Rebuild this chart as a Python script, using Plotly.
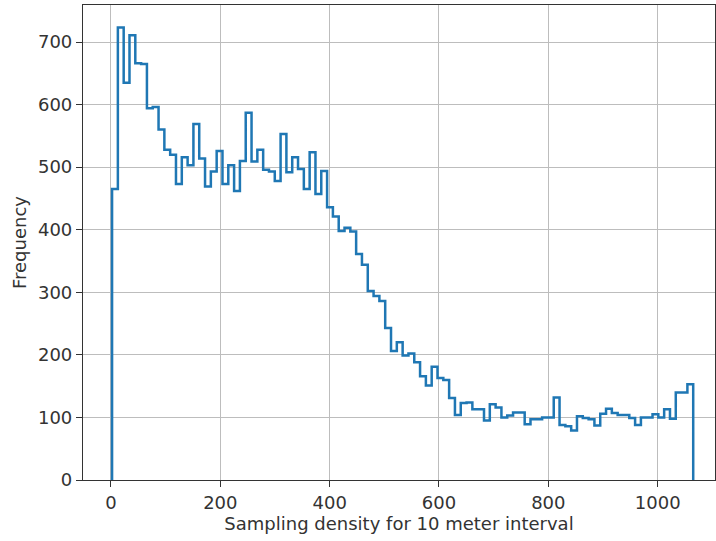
import numpy as np
import plotly.graph_objects as go

# Histogram data (step histogram, 100 equal-width bins)
bin_start = 2.0
bin_end = 1065.0
counts = [
    465, 723, 635, 711, 666, 665, 594, 596, 560, 528,
    520, 473, 516, 503, 569, 514, 469, 493, 526, 473,
    503, 462, 510, 587, 509, 528, 496, 493, 478, 553,
    492, 516, 497, 465, 524, 457, 494, 436, 421, 398,
    403, 397, 361, 344, 302, 294, 286, 243, 206, 220,
    199, 202, 188, 166, 151, 181, 163, 160, 131, 104,
    123, 124, 113, 113, 95, 121, 116, 100, 103, 108,
    108, 89, 97, 97, 100, 100, 132, 88, 86, 79,
    102, 99, 97, 87, 106, 114, 107, 104, 104, 99,
    88, 100, 100, 105, 100, 113, 98, 140, 140, 153,
]
x_ticks = [0, 200, 400, 600, 800, 1000]
y_ticks = [0, 100, 200, 300, 400, 500, 600, 700]
x_label = "Sampling density for 10 meter interval"
y_label = "Frequency"

edges = np.linspace(bin_start, bin_end, len(counts) + 1)
xs = [edges[0]]
ys = [0]
for i, c in enumerate(counts):
    xs += [edges[i], edges[i + 1]]
    ys += [c, c]
xs.append(edges[-1])
ys.append(0)

span = bin_end - bin_start
x_range = [bin_start - 0.05 * span, bin_start - 0.05 * span + 1156]
y_range = [0, max(counts) * 1.05]

fig = go.Figure()
fig.add_trace(go.Scatter(x=xs, y=ys, mode="lines",
                         line=dict(color="#1f77b4", width=2.5),
                         hoverinfo="skip", showlegend=False))

font = dict(family="DejaVu Sans", size=18, color="#333333")
axis_common = dict(
    showline=True, mirror=True, linecolor="#333", linewidth=1.2,
    ticks="outside", ticklen=6, tickwidth=1.2, tickcolor="#333",
    showgrid=True, gridcolor="#bdbdbd", gridwidth=1.2,
    zeroline=False, tickfont=font,
)
fig.update_layout(
    width=716, height=541,
    margin=dict(l=83, r=1, t=5, b=61),
    paper_bgcolor="white", plot_bgcolor="white",
    xaxis=dict(range=x_range, tickvals=x_ticks, ticktext=[str(v) for v in x_ticks],
               title=dict(text=x_label, font=font, standoff=3), **axis_common),
    yaxis=dict(range=y_range, tickvals=y_ticks, ticktext=[str(v) for v in y_ticks],
               title=dict(text=y_label, font=font, standoff=6), **axis_common),
)
fig.write_html("out.html")
